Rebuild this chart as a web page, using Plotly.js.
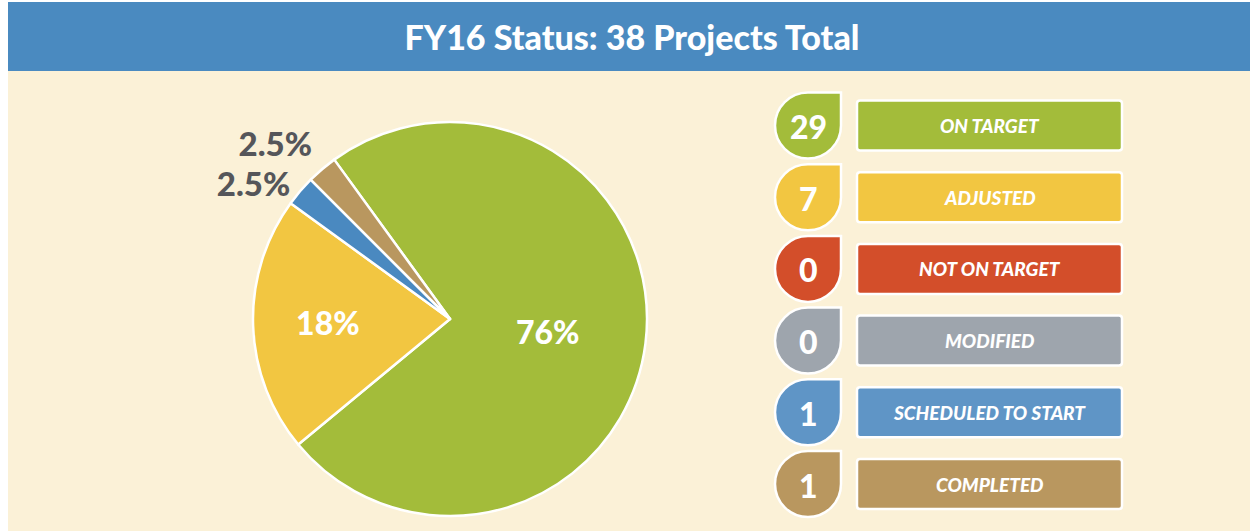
<!DOCTYPE html>
<html>
<head>
<meta charset="utf-8">
<script src="https://cdn.plot.ly/plotly-3.0.1.min.js"></script>
<style>
  html, body { margin: 0; padding: 0; background: #ffffff; }
  #chart { width: 1250px; height: 531px; }
  /* the reference has no leader lines for the outside labels */
  .textline { stroke-opacity: 0 !important; }
</style>
</head>
<body>
<div id="chart"></div>
<script>
// ---- data ----
const titleText = 'FY16 Status: 38 Projects Total';

// pie slices (clockwise from the green one), shares
const sliceNames  = ['On Target', 'Adjusted', 'Scheduled to Start', 'Completed'];
const sliceShares = [74, 21, 2.5, 2.5];
const sliceLabels = ['76%', '18%', '2.5%', '2.5%'];
const sliceColors = ['#a3bc3a', '#f2c641', '#4a89c0', '#b9975f'];

// legend rows
const statusNames  = ['ON TARGET', 'ADJUSTED', 'NOT ON TARGET', 'MODIFIED', 'SCHEDULED TO START', 'COMPLETED'];
const statusCounts = [29, 7, 0, 0, 1, 1];
const statusColors = ['#a3bc3a', '#f2c641', '#d34e2a', '#9ea5ad', '#5f95c6', '#b9975f'];

// ---- layout helpers (pixel -> paper) ----
const W = 1250, H = 531;
const px = x => x / W;
const py = y => 1 - y / H;
const FONT = 'Lato, "Open Sans", sans-serif';

const shapes = [];
const annotations = [];

// background panels
shapes.push({type: 'rect', xref: 'paper', yref: 'paper', layer: 'below',
  x0: px(8), x1: px(W), y0: py(H), y1: py(71), fillcolor: '#fbf1d7', line: {width: 0}});
shapes.push({type: 'rect', xref: 'paper', yref: 'paper', layer: 'below',
  x0: px(8), x1: px(W), y0: py(71), y1: py(2), fillcolor: '#4a8ac0', line: {width: 0}});

// legend rows
const rowY0 = 125.5, rowStep = 71.7;
const dropX = 808, dropR = 33;
const rectX0 = 857, rectX1 = 1122, rectH = 50;
const k = 0.5523;

function P(x, y) { return px(x).toFixed(5) + ',' + py(y).toFixed(5); }

statusNames.forEach((name, i) => {
  const cy = rowY0 + rowStep * i;
  const cx = dropX, r = dropR;
  // teardrop: circle with square top-right corner
  const d = 'M ' + P(cx, cy - r) +
    ' L ' + P(cx + r, cy - r) +
    ' L ' + P(cx + r, cy) +
    ' C ' + P(cx + r, cy + k * r) + ' ' + P(cx + k * r, cy + r) + ' ' + P(cx, cy + r) +
    ' C ' + P(cx - k * r, cy + r) + ' ' + P(cx - r, cy + k * r) + ' ' + P(cx - r, cy) +
    ' C ' + P(cx - r, cy - k * r) + ' ' + P(cx - k * r, cy - r) + ' ' + P(cx, cy - r) + ' Z';
  shapes.push({type: 'path', xref: 'paper', yref: 'paper', path: d,
    fillcolor: statusColors[i], line: {color: '#ffffff', width: 2.5}});

  // label box with slightly rounded corners
  const y0 = cy - rectH / 2, y1 = cy + rectH / 2, rr = 3;
  const b = 'M ' + P(rectX0 + rr, y0) + ' L ' + P(rectX1 - rr, y0) +
    ' Q ' + P(rectX1, y0) + ' ' + P(rectX1, y0 + rr) +
    ' L ' + P(rectX1, y1 - rr) + ' Q ' + P(rectX1, y1) + ' ' + P(rectX1 - rr, y1) +
    ' L ' + P(rectX0 + rr, y1) + ' Q ' + P(rectX0, y1) + ' ' + P(rectX0, y1 - rr) +
    ' L ' + P(rectX0, y0 + rr) + ' Q ' + P(rectX0, y0) + ' ' + P(rectX0 + rr, y0) + ' Z';
  shapes.push({type: 'path', xref: 'paper', yref: 'paper', path: b,
    fillcolor: statusColors[i], line: {color: '#ffffff', width: 2.5}});

  annotations.push({xref: 'paper', yref: 'paper', x: px(cx), y: py(cy + 1),
    xanchor: 'center', yanchor: 'middle', showarrow: false,
    text: String(statusCounts[i]),
    font: {family: FONT, size: 32, weight: 900, color: '#ffffff'}});
  annotations.push({xref: 'paper', yref: 'paper', x: px((rectX0 + rectX1) / 2), y: py(cy),
    xanchor: 'center', yanchor: 'middle', showarrow: false,
    text: '<i>' + name + '</i>',
    font: {family: FONT, size: 19, weight: 900, color: '#ffffff'}});
});

// pie geometry
const pieCx = 450, pieCy = 319, pieR = 197;

const trace = {
  type: 'pie',
  labels: sliceNames,
  values: sliceShares,
  text: sliceLabels,
  textinfo: 'text',
  texttemplate: '%{text}',
  hoverinfo: 'label+text',
  sort: false,
  direction: 'clockwise',
  rotation: -36,
  marker: {colors: sliceColors, line: {color: '#ffffff', width: 2.5}},
  textposition: ['inside', 'inside', 'outside', 'outside'],
  insidetextorientation: 'horizontal',
  insidetextfont: {family: FONT, size: 32, weight: 900, color: '#ffffff'},
  outsidetextfont: {family: FONT, size: 33, weight: 900, color: '#55565a'},
  automargin: false,
  showlegend: false,
  domain: {
    x: [px(pieCx - pieR), px(pieCx + pieR)],
    y: [py(pieCy + pieR), py(pieCy - pieR)]
  }
};

const layout = {
  width: W, height: H,
  margin: {l: 0, r: 0, t: 0, b: 0},
  paper_bgcolor: '#ffffff',
  showlegend: false,
  title: {
    text: titleText,
    x: px(632), xref: 'paper', xanchor: 'center',
    y: py(38), yref: 'paper', yanchor: 'middle',
    font: {family: FONT, size: 34, weight: 900, color: '#ffffff'}
  },
  shapes: shapes,
  annotations: annotations
};

Plotly.newPlot('chart', [trace], layout, {displayModeBar: false, staticPlot: true});
</script>
</body>
</html>
